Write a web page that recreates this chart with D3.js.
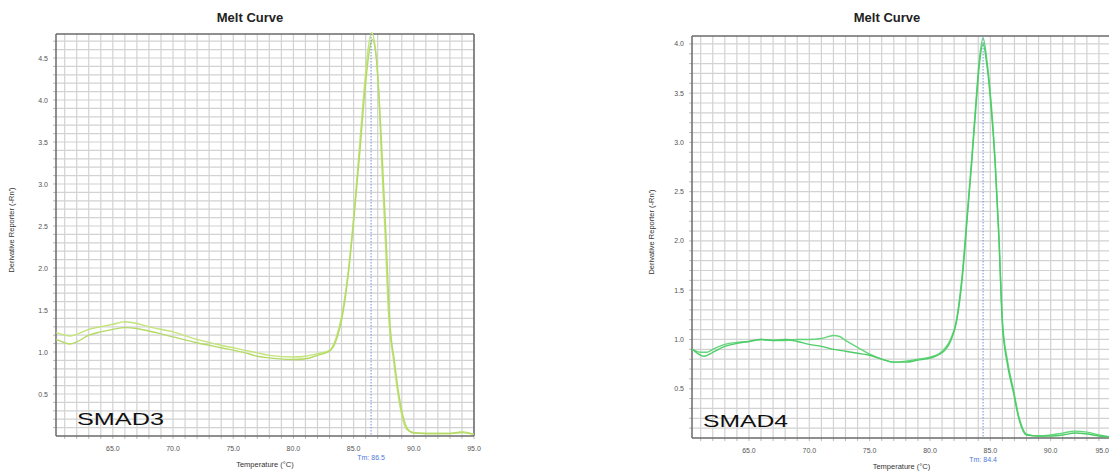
<!DOCTYPE html>
<html>
<head>
<meta charset="utf-8">
<script src="https://cdn.jsdelivr.net/npm/d3@7"></script>
<style>
  html, body { margin: 0; padding: 0; background: #fff; }
  svg { display: block; }
</style>
</head>
<body>
<svg id="chart" width="1109" height="472"></svg>
<script>
// ---- data ----
const chartTitles = ["Melt Curve", "Melt Curve"];
const geneLabels = ["SMAD3", "SMAD4"];
const tmValues = [86.45, 84.4];
const tmLabels = ["Tm: 86.5", "Tm: 84.4"];
const xTickValues = [65, 70, 75, 80, 85, 90, 95];
const yTicksSmad3 = [0.5, 1.0, 1.5, 2.0, 2.5, 3.0, 3.5, 4.0, 4.5];
const yTicksSmad4 = [0.5, 1.0, 1.5, 2.0, 2.5, 3.0, 3.5, 4.0];

const smad3TempA = [60.3, 61, 61.5, 62, 63, 64, 65, 66, 67, 68, 70, 72, 74, 76, 77, 78, 80, 81, 82, 83, 83.5, 84, 84.5, 85, 85.4, 85.8, 86.2, 86.5, 86.8, 87.1, 87.3, 87.6, 87.9, 88.3, 88.6, 89, 89.4, 90, 91, 93, 94, 95];
const smad3ValA  = [1.23, 1.20, 1.19, 1.21, 1.27, 1.30, 1.33, 1.36, 1.34, 1.30, 1.24, 1.15, 1.08, 1.02, 0.99, 0.96, 0.94, 0.95, 0.98, 1.02, 1.15, 1.42, 1.90, 2.60, 3.29, 4.00, 4.60, 4.80, 4.62, 4.05, 3.35, 2.45, 1.45, 0.92, 0.58, 0.25, 0.08, 0.04, 0.03, 0.03, 0.05, 0.02];
const smad3TempB = [60.3, 61, 61.4, 62, 63, 64, 65, 66, 67, 68, 70, 72, 74, 76, 77, 78, 80, 81, 82, 83, 83.5, 84, 84.5, 85, 85.5, 85.9, 86.3, 86.55, 86.85, 87.15, 87.4, 87.7, 88.0, 88.4, 88.7, 89.1, 89.5, 90, 91, 93, 94, 95];
const smad3ValB  = [1.15, 1.11, 1.095, 1.12, 1.20, 1.24, 1.27, 1.29, 1.28, 1.25, 1.18, 1.11, 1.05, 0.99, 0.95, 0.93, 0.91, 0.92, 0.96, 1.01, 1.12, 1.38, 1.85, 2.55, 3.35, 4.05, 4.58, 4.72, 4.55, 3.95, 3.25, 2.35, 1.38, 0.88, 0.55, 0.24, 0.08, 0.035, 0.03, 0.03, 0.04, 0.02];

const smad4TempA = [60.3, 61, 61.5, 62, 63, 64, 65, 66, 67, 68, 69, 70, 71, 72, 72.5, 73, 74, 75, 76, 77, 78, 79, 80, 80.8, 81.3, 81.7, 82.2, 82.7, 83.1, 83.45, 83.8, 84.1, 84.4, 84.7, 85.0, 85.4, 85.7, 86.0, 86.4, 86.9, 87.4, 88.0, 89, 90, 91, 92, 93, 94, 95];
const smad4ValA  = [0.90, 0.87, 0.87, 0.90, 0.95, 0.97, 0.98, 1.00, 0.99, 0.99, 1.00, 1.00, 1.01, 1.04, 1.03, 0.99, 0.92, 0.85, 0.80, 0.77, 0.78, 0.80, 0.82, 0.86, 0.92, 1.00, 1.20, 1.70, 2.30, 2.82, 3.40, 3.85, 4.06, 3.85, 3.50, 2.82, 2.10, 1.20, 0.80, 0.50, 0.20, 0.04, 0.02, 0.03, 0.05, 0.07, 0.06, 0.03, 0.01];
const smad4TempB = [60.3, 61, 61.3, 62, 63, 64, 65, 66, 67, 68, 69, 70, 71, 72, 73, 74, 75, 76, 77, 78, 79, 80, 80.8, 81.3, 81.7, 82.2, 82.7, 83.1, 83.45, 83.8, 84.1, 84.4, 84.7, 85.0, 85.4, 85.7, 86.0, 86.4, 86.9, 87.4, 88.0, 89, 90, 91, 92, 93, 94, 95];
const smad4ValB  = [0.90, 0.84, 0.83, 0.87, 0.93, 0.96, 0.98, 1.00, 0.99, 1.00, 0.98, 0.95, 0.93, 0.90, 0.88, 0.86, 0.84, 0.80, 0.77, 0.77, 0.79, 0.81, 0.85, 0.90, 0.98, 1.18, 1.65, 2.25, 2.78, 3.35, 3.80, 4.00, 3.80, 3.45, 2.78, 2.05, 1.15, 0.76, 0.47, 0.18, 0.03, 0.02, 0.02, 0.03, 0.05, 0.04, 0.02, 0.01];

// ---- layout config (positions/styles) ----
const charts = [
  { left: 56, right: 474, top: 34, bottom: 436, xDomain: [60.28, 95], yDomain: [0, 4.786],
    yTicks: yTicksSmad3, title: chartTitles[0], titleX: 250, gene: geneLabels[0], geneX: 77, geneW: 87,
    tm: tmValues[0], tmLabel: tmLabels[0], color: "#c3e47a", colorB: "#b4da66",
    series: [[smad3TempA, smad3ValA], [smad3TempB, smad3ValB]], yLabelX: 14, rightBorder: true },
  { left: 692, right: 1111, top: 36, bottom: 438, xDomain: [60.28, 95], yDomain: [0, 4.08],
    yTicks: yTicksSmad4, title: chartTitles[1], titleX: 887, gene: geneLabels[1], geneX: 703, geneW: 85,
    tm: tmValues[1], tmLabel: tmLabels[1], color: "#63d67a", colorB: "#4ccc66",
    series: [[smad4TempA, smad4ValA], [smad4TempB, smad4ValB]], yLabelX: 654, rightBorder: false }
];

const svg = d3.select("#chart");
const W = 1109;

charts.forEach(c => {
  const x = d3.scaleLinear().domain(c.xDomain).range([c.left, c.right]);
  const y = d3.scaleLinear().domain(c.yDomain).range([c.bottom, c.top]);
  const g = svg.append("g");

  // grid: vertical every 1 °C, horizontal every 0.1
  const xGrid = d3.range(61, 96, 1);
  const yGrid = d3.range(1, Math.floor(c.yDomain[1] * 10) + 1).map(d => d / 10);
  g.append("g").selectAll("line").data(xGrid).join("line")
    .attr("x1", d => x(d)).attr("x2", d => x(d))
    .attr("y1", c.top).attr("y2", c.bottom)
    .attr("stroke", "#d2d2d2").attr("stroke-width", 1.2);
  g.append("g").selectAll("line").data(yGrid).join("line")
    .attr("x1", c.left).attr("x2", c.right)
    .attr("y1", d => y(d)).attr("y2", d => y(d))
    .attr("stroke", "#d2d2d2").attr("stroke-width", 1.2);

  // small outer ticks
  g.append("g").selectAll("line").data(yGrid).join("line")
    .attr("x1", c.left - 3).attr("x2", c.left)
    .attr("y1", d => y(d)).attr("y2", d => y(d))
    .attr("stroke", "#bbb").attr("stroke-width", 1);
  g.append("g").selectAll("line").data(xGrid).join("line")
    .attr("x1", d => x(d)).attr("x2", d => x(d))
    .attr("y1", c.bottom).attr("y2", c.bottom + 3)
    .attr("stroke", "#bbb").attr("stroke-width", 1);

  // frame
  g.append("line").attr("x1", c.left).attr("x2", c.right).attr("y1", c.top).attr("y2", c.top)
    .attr("stroke", "#6a6a6a").attr("stroke-width", 1.5);
  g.append("line").attr("x1", c.left).attr("x2", c.right).attr("y1", c.bottom).attr("y2", c.bottom)
    .attr("stroke", "#6a6a6a").attr("stroke-width", 1.5);
  g.append("line").attr("x1", c.left).attr("x2", c.left).attr("y1", c.top).attr("y2", c.bottom)
    .attr("stroke", "#6a6a6a").attr("stroke-width", 1.5);
  if (c.rightBorder) {
    g.append("line").attr("x1", c.right).attr("x2", c.right).attr("y1", c.top).attr("y2", c.bottom)
      .attr("stroke", "#6a6a6a").attr("stroke-width", 1.5);
  }

  // axes tick labels
  g.append("g").selectAll("text").data(c.yTicks).join("text")
    .attr("x", c.left - 8).attr("y", d => y(d) + 2.5)
    .attr("text-anchor", "end")
    .attr("font-family", "Liberation Sans Narrow, Liberation Sans, Arial, sans-serif")
    .attr("font-size", 7).attr("fill", "#555")
    .text(d => d.toFixed(1));
  g.append("g").selectAll("text").data(xTickValues).join("text")
    .attr("x", d => x(d) > W - 8 ? W : x(d)).attr("y", c.bottom + 15)
    .attr("text-anchor", d => x(d) > W - 8 ? "end" : "middle")
    .attr("font-family", "Liberation Sans Narrow, Liberation Sans, Arial, sans-serif")
    .attr("font-size", 7).attr("fill", "#555")
    .text(d => d.toFixed(1));

  // axis titles
  g.append("text")
    .attr("x", (c.left + c.right) / 2).attr("y", c.bottom + 31)
    .attr("text-anchor", "middle")
    .attr("font-family", "Liberation Sans Narrow, Liberation Sans, Arial, sans-serif")
    .attr("font-size", 7.5).attr("fill", "#333")
    .text("Temperature (°C)");
  g.append("text")
    .attr("transform", `translate(${c.yLabelX},${(c.top + c.bottom) / 2 - 5}) rotate(-90)`)
    .attr("text-anchor", "middle")
    .attr("font-family", "Liberation Sans Narrow, Liberation Sans, Arial, sans-serif")
    .attr("font-size", 7.5).attr("fill", "#333")
    .text("Derivative Reporter (-Rn')");

  // title
  g.append("text")
    .attr("x", c.titleX).attr("y", 22)
    .attr("text-anchor", "middle")
    .attr("font-family", "Liberation Sans Narrow, Liberation Sans, Arial, sans-serif")
    .attr("font-weight", "bold")
    .attr("font-size", 13).attr("fill", "#222")
    .text(c.title);

  // curves
  const line = d3.line().x(d => x(d[0])).y(d => y(d[1])).curve(d3.curveMonotoneX);
  c.series.forEach((s, i) => {
    const pts = s[0].map((t, k) => [t, s[1][k]]);
    g.append("path").datum(pts)
      .attr("d", line)
      .attr("fill", "none")
      .attr("stroke", i === 0 ? c.color : c.colorB)
      .attr("stroke-width", 1.4);
  });

  // Tm line
  g.append("line")
    .attr("x1", x(c.tm)).attr("x2", x(c.tm))
    .attr("y1", c.top).attr("y2", c.bottom)
    .attr("stroke", "#6f8fe0").attr("stroke-width", 1)
    .attr("stroke-dasharray", "1.5,1.5");
  g.append("text")
    .attr("x", x(c.tm)).attr("y", c.bottom + 24)
    .attr("text-anchor", "middle")
    .attr("font-family", "Liberation Sans Narrow, Liberation Sans, Arial, sans-serif")
    .attr("font-size", 7).attr("fill", "#4f7ad8")
    .text(c.tmLabel);

  // gene label
  g.append("text")
    .attr("x", c.geneX).attr("y", c.bottom - 11)
    .attr("font-family", "Liberation Sans, Arial, sans-serif")
    .attr("font-size", 16.5).attr("fill", "#111")
    .attr("textLength", c.geneW).attr("lengthAdjust", "spacingAndGlyphs")
    .text(c.gene);
});
</script>
</body>
</html>
